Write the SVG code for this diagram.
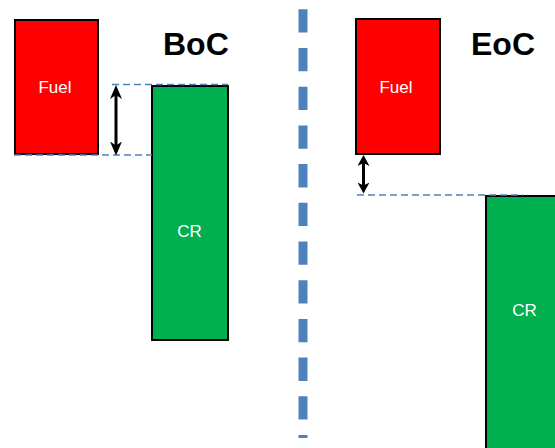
<svg xmlns="http://www.w3.org/2000/svg" width="555" height="448" viewBox="0 0 555 448">
<style>
.fuel{fill:#FF0000;stroke:#000;stroke-width:2}
.cr{fill:#00B050;stroke:#000;stroke-width:2}
.lbl{font-family:"Liberation Sans",Arial,sans-serif;font-size:17px;fill:#fff;text-anchor:middle}
.title{font-family:"Liberation Sans",Arial,sans-serif;font-size:32px;font-weight:bold;fill:#000}
.guide{stroke:#4F81BD;stroke-width:1.4;stroke-dasharray:7 4;fill:none}
.arr{stroke:#000;stroke-width:3;fill:none}
</style>
<defs>
<marker id="ahL" viewBox="0 0 14 12" refX="10" refY="6" markerWidth="14" markerHeight="12" orient="auto-start-reverse" markerUnits="userSpaceOnUse">
<path d="M0,0 L14,6 L0,12 L4,6 Z" fill="#000"/>
</marker>
<marker id="ahR" viewBox="0 0 11 12" refX="7" refY="6" markerWidth="11" markerHeight="12" orient="auto-start-reverse" markerUnits="userSpaceOnUse">
<path d="M0,0 L11,6 L0,12 L3,6 Z" fill="#000"/>
</marker>
</defs>
<rect width="555" height="448" fill="#fff"/>
<g id="divider">
<line x1="303" y1="9.3" x2="303" y2="438" stroke="#4F81BD" stroke-width="9" stroke-dasharray="23.3 15.4"/>
</g>
<g id="boc-fuel">
<rect class="fuel" x="15" y="20" width="83" height="134"/>
<text class="lbl" x="55" y="93">Fuel</text>
</g>
<g id="boc-cr">
<rect class="cr" x="152" y="86" width="76" height="254"/>
<text class="lbl" x="189.5" y="237">CR</text>
</g>
<g id="boc-title"><text class="title" x="163" y="55">BoC</text></g>
<g id="eoc-fuel">
<rect class="fuel" x="356" y="19" width="84" height="135"/>
<text class="lbl" x="396" y="93">Fuel</text>
</g>
<g id="eoc-cr">
<rect class="cr" x="486" y="196" width="100" height="300"/>
<text class="lbl" x="524.5" y="316">CR</text>
</g>
<g id="eoc-title"><text class="title" x="471" y="55">EoC</text></g>
<g id="connectors">
<line class="guide" x1="112" y1="84.5" x2="228" y2="84.5"/>
<line class="guide" x1="14" y1="155" x2="152" y2="155"/>
<line class="arr" x1="116" y1="89" x2="116" y2="151.5" marker-start="url(#ahL)" marker-end="url(#ahL)"/>
<line class="guide" x1="357" y1="195" x2="523" y2="195"/>
<line class="arr" x1="363.5" y1="159" x2="363.5" y2="189.5" stroke-width="3.5" marker-start="url(#ahR)" marker-end="url(#ahR)"/>
</g>
</svg>
